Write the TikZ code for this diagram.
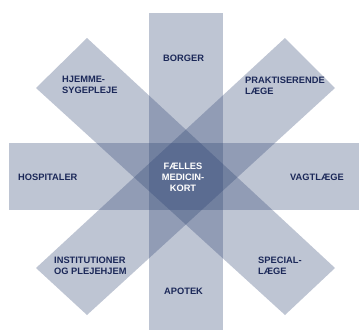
\documentclass[tikz,border=0pt]{standalone}
\usepackage{fontspec}
\setmainfont{Liberation Sans}
\usepackage{tikz}

\definecolor{barblue}{RGB}{40,62,110}
\definecolor{txtblue}{RGB}{27,40,88}

\begin{document}
\begin{tikzpicture}[x=1pt, y=-1pt, bar/.style={fill=barblue, fill opacity=0.3, draw=none}, lbl/.style={anchor=north west, align=left, inner sep=0pt, text=txtblue, font=\fontsize{9.3}{11}\selectfont\bfseries}, mid/.style={anchor=north, align=center, inner sep=0pt, text=white, font=\fontsize{9.3}{10.6}\selectfont\bfseries}]
                \useasboundingbox (0,0) rectangle (359,330);
                % bars
                \fill[bar] (149,13) rectangle (222.5,330);
                \fill[bar] (9,143) rectangle (359,210);
                \fill[bar] (87,38) -- (36,88) -- (285,315) -- (335,268) -- cycle;
                \fill[bar] (285,38) -- (335,88) -- (87,315) -- (36,268) -- cycle;
                % nodes
                \node[mid] (kort) at (183,163.3) {FÆLLES\\MEDICIN-\\KORT};
                \node[lbl] (borger) at (163,55) {BORGER};
                \node[lbl] (hjemme) at (62,76) {HJEMME-\\SYGEPLEJE};
                \node[lbl] (praksis) at (245,77) {PRAKTISERENDE\\LÆGE};
                \node[lbl] (hospital) at (18,174.3) {HOSPITALER};
                \node[lbl] (vagt) at (290,174.3) {VAGTLÆGE};
                \node[lbl] (institution) at (54,256.7) {INSTITUTIONER\\OG PLEJEHJEM};
                \node[lbl] (special) at (258,256.7) {SPECIAL-\\LÆGE};
                \node[lbl] (apotek) at (164,288.3) {APOTEK};
            \end{tikzpicture}
\end{document}
